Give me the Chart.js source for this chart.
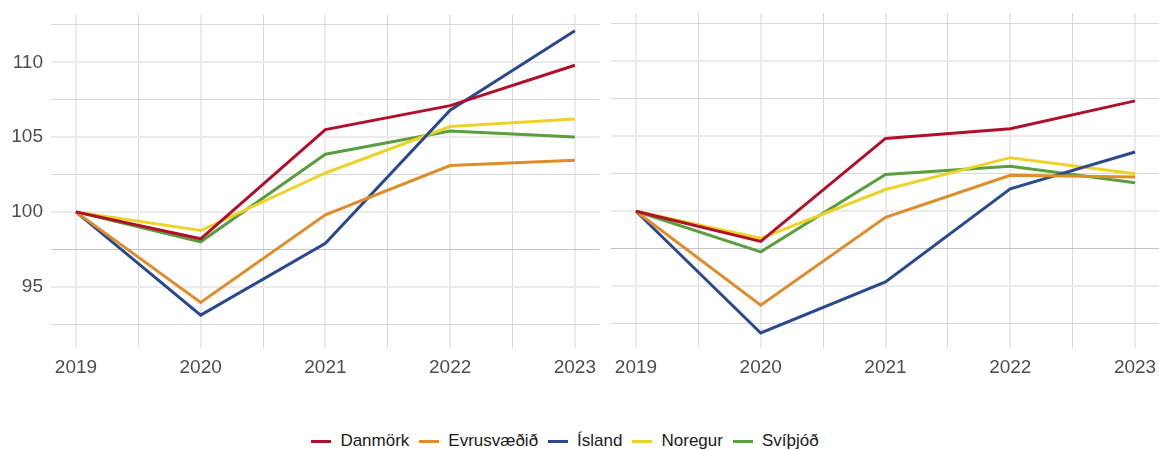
<!DOCTYPE html>
<html>
<head>
<meta charset="utf-8">
<script src="https://cdn.jsdelivr.net/npm/chart.js@4"></script>
<style>
  body { margin: 0; background: #fff; font-family: "Liberation Sans", Arial, sans-serif; overflow: hidden; }
  #wrap { position: relative; width: 1159px; height: 450px; overflow: hidden; }
  canvas { position: absolute; top: 0; }
  #left { left: 0; top: -5px; }
  #right { left: 607px; }
  #legend {
    position: absolute; top: 431px; left: 0; width: 1130px;
    display: flex; justify-content: center; gap: 10px;
    font-size: 17px; color: #1a1a1a;
  }
  .item { display: flex; align-items: center; }
  .swatch { width: 20px; height: 3px; margin-right: 9px; }
</style>
</head>
<body>
<div id="wrap">
  <canvas id="left" width="604" height="405"></canvas>
  <canvas id="right" width="557" height="400"></canvas>
  <div id="legend"></div>
</div>
<script>
// data
const years = [2019, 2020, 2021, 2022, 2023];
const countries = ['Danmörk', 'Evrusvæðið', 'Ísland', 'Noregur', 'Svíþjóð'];
const colors = ['#b0102c', '#df8c2a', '#2b4a8e', '#edd328', '#5b9e3f'];

// left panel
const leftDanmork = [100, 98.2, 105.5, 107.1, 109.8];
const leftEvru = [100, 93.95, 99.8, 103.1, 103.45];
const leftIsland = [100, 93.1, 97.9, 106.8, 112.1];
const leftNoregur = [100, 98.75, 102.6, 105.7, 106.2];
const leftSvithjod = [100, 98.0, 103.85, 105.4, 105.0];

// right panel
const rightDanmork = [100, 98.0, 104.85, 105.5, 107.35];
const rightEvru = [100, 93.75, 99.6, 102.4, 102.28];
const rightIsland = [100, 91.9, 95.3, 101.5, 103.95];
const rightNoregur = [100, 98.2, 101.45, 103.57, 102.5];
const rightSvithjod = [100, 97.3, 102.45, 103.0, 101.9];

const yTicks = [95, 100, 105, 110];

function makeDatasets(series) {
  return series.map((vals, i) => ({
    label: countries[i],
    data: vals.map((v, j) => ({ x: years[j], y: v })),
    borderColor: colors[i],
    borderWidth: 3,
    pointRadius: 0,
    tension: 0,
    fill: false
  }));
}

function makeChart(id, series, showY) {
  const ctx = document.getElementById(id).getContext('2d');
  return new Chart(ctx, {
    type: 'line',
    data: { datasets: makeDatasets(series) },
    options: {
      responsive: false,
      animation: false,
      devicePixelRatio: 1,
      layout: { padding: { top: 13, right: 0, left: 0, bottom: 0 } },
      plugins: { legend: { display: false }, tooltip: { enabled: false } },
      scales: {
        x: {
          type: 'linear',
          min: 2018.8,
          max: 2023.2,
          border: { display: false },
          grid: {
            drawTicks: false,
            color: ctx => Number.isInteger(ctx.tick.value) ? '#ebebeb' : '#d9d9d9',
            lineWidth: ctx => Number.isInteger(ctx.tick.value) ? 2 : 1
          },
          ticks: {
            stepSize: 0.5,
            includeBounds: false,
            autoSkip: false,
            maxRotation: 0,
            padding: 8,
            color: '#4d4d4d',
            font: { family: 'Liberation Sans', size: 19 },
            callback: v => years.includes(v) ? String(v) : ''
          },
          afterFit: s => { s.height = 52; }
        },
        y: {
          min: 90.9,
          max: 113.2,
          border: { display: false },
          grid: {
            drawTicks: false,
            color: ctx => yTicks.includes(ctx.tick.value) ? '#ebebeb'
              : (ctx.tick.value === 97.5 ? '#c4c4c4' : '#d9d9d9'),
            lineWidth: ctx => yTicks.includes(ctx.tick.value) ? 2 : 1
          },
          ticks: {
            display: showY,
            stepSize: 2.5,
            includeBounds: false,
            padding: 8,
            color: '#4d4d4d',
            font: { family: 'Liberation Sans', size: 19 },
            callback: v => yTicks.includes(v) ? String(v) : ''
          },
          afterFit: s => { s.width = showY ? 51 : 0; }
        }
      }
    }
  });
}

makeChart('left', [leftDanmork, leftEvru, leftIsland, leftNoregur, leftSvithjod], true);
makeChart('right', [rightDanmork, rightEvru, rightIsland, rightNoregur, rightSvithjod], false);

// legend
const legend = document.getElementById('legend');
countries.forEach((name, i) => {
  const item = document.createElement('div');
  item.className = 'item';
  item.innerHTML = `<span class="swatch" style="background:${colors[i]}"></span><span>${name}</span>`;
  legend.appendChild(item);
});
</script>
</body>
</html>
